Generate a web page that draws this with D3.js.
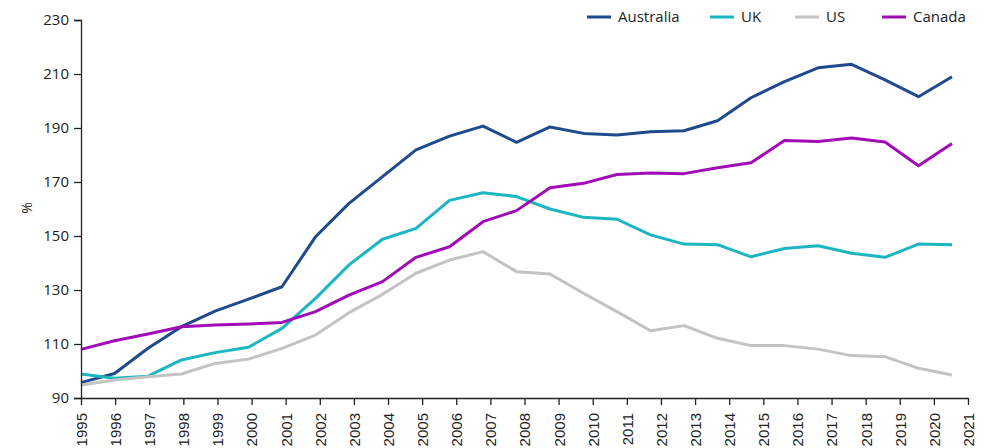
<!DOCTYPE html>
<html>
<head>
<meta charset="utf-8">
<script src="https://cdn.jsdelivr.net/npm/d3@7"></script>
<style>
  body { margin: 0; background: #fff; }
  svg { display: block; }
  .tick text { fill: #222; }
</style>
</head>
<body>
<svg id="chart" width="991" height="448"></svg>
<script>
const years = d3.range(1995, 2022).map(String);
const yTicks = [90, 110, 130, 150, 170, 190, 210, 230];

const australia = [95.7, 99.1, 108.4, 116.4, 122.2, 126.6, 131.2, 149.7, 162.1, 172.0,
  181.9, 187.0, 190.7, 184.7, 190.4, 188.0, 187.4, 188.6, 189.0, 192.7,
  201.2, 207.2, 212.3, 213.6, 207.8, 201.6, 209.0];
const uk = [98.9, 97.3, 98.1, 104.1, 106.8, 108.8, 115.8, 126.9, 139.3, 148.8,
  152.8, 163.2, 166.0, 164.6, 160.0, 156.9, 156.2, 150.4, 147.0, 146.8,
  142.3, 145.4, 146.4, 143.6, 142.1, 147.0, 146.8];
const us = [94.8, 96.7, 97.9, 98.9, 102.8, 104.4, 108.4, 113.3, 121.6, 128.4,
  136.2, 141.1, 144.2, 136.8, 135.9, 128.8, 122.0, 114.9, 116.8, 112.1,
  109.4, 109.4, 108.1, 105.7, 105.3, 101.0, 98.5];
const canada = [108.0, 111.2, 113.7, 116.4, 117.0, 117.4, 118.0, 122.0, 128.1, 133.1,
  142.1, 146.0, 155.3, 159.4, 167.9, 169.5, 172.8, 173.3, 173.1, 175.3,
  177.1, 185.4, 185.0, 186.3, 184.8, 176.0, 184.3];

const series = [
  { name: "Australia", values: australia, color: "#1f4a8e" },
  { name: "UK", values: uk, color: "#1cb5c2" },
  { name: "US", values: us, color: "#c3c3c3" },
  { name: "Canada", values: canada, color: "#a10ab7" }
];

const svg = d3.select("#chart");
const margin = { left: 81, right: 968, top: 20, bottom: 398 };

// tick axis spans whole years, the data points sit a little tighter
let xAxisScale = d3.scalePoint().domain(years).range([margin.left, margin.right]);
let xData = d3.scalePoint().domain(years).range([margin.left, 952]);
let y = d3.scaleLinear().domain([90, 230]).range([margin.bottom, margin.top]);

// lines
let line = d3.line()
  .x((d, i) => xData(years[i]))
  .y(d => y(d));

svg.append("g")
  .selectAll("path")
  .data(series)
  .enter().append("path")
  .attr("fill", "none")
  .attr("stroke", d => d.color)
  .attr("stroke-width", 3)
  .attr("stroke-linejoin", "round")
  .attr("d", d => line(d.values));

// y axis
let yAxis = svg.append("g")
  .attr("transform", `translate(${margin.left},0)`)
  .call(d3.axisLeft(y).tickValues(yTicks).tickSize(7).tickPadding(5));
yAxis.selectAll("text")
  .style("font-family", "'Open Sans', sans-serif")
  .style("font-size", "15px");
yAxis.selectAll("line, path").attr("stroke", "#222").attr("stroke-width", 1.3);

// x axis
let xAxis = svg.append("g")
  .attr("transform", `translate(0,${margin.bottom})`)
  .call(d3.axisBottom(xAxisScale).tickSize(7).tickSizeOuter(0));
xAxis.select(".domain").attr("stroke", "#222").attr("stroke-width", 1.3);
xAxis.selectAll("line").attr("stroke", "#222").attr("stroke-width", 1.3);
xAxis.selectAll("text")
  .style("font-family", "'Liberation Sans', Arial, sans-serif")
  .style("font-size", "15px")
  .attr("text-anchor", "end")
  .attr("transform", "rotate(-90)")
  .attr("x", -15)
  .attr("y", 0)
  .attr("dy", "0.36em");

// y label
svg.append("text")
  .attr("transform", "translate(27,208) rotate(-90)")
  .attr("text-anchor", "middle")
  .attr("dy", "0.35em")
  .style("font-family", "'Open Sans', sans-serif")
  .style("font-size", "14px")
  .attr("fill", "#222")
  .text("%");

// legend
const legendX = [587, 710, 795, 882];
let legend = svg.append("g")
  .selectAll("g")
  .data(series)
  .enter().append("g")
  .attr("transform", (d, i) => `translate(${legendX[i]},17)`);
legend.append("line")
  .attr("x1", 0).attr("x2", 24)
  .attr("stroke", d => d.color)
  .attr("stroke-width", 3);
legend.append("text")
  .attr("x", 31)
  .attr("dy", "0.35em")
  .style("font-family", "'Open Sans', sans-serif")
  .style("font-size", "15px")
  .attr("fill", "#222")
  .text(d => d.name);
</script>
</body>
</html>
